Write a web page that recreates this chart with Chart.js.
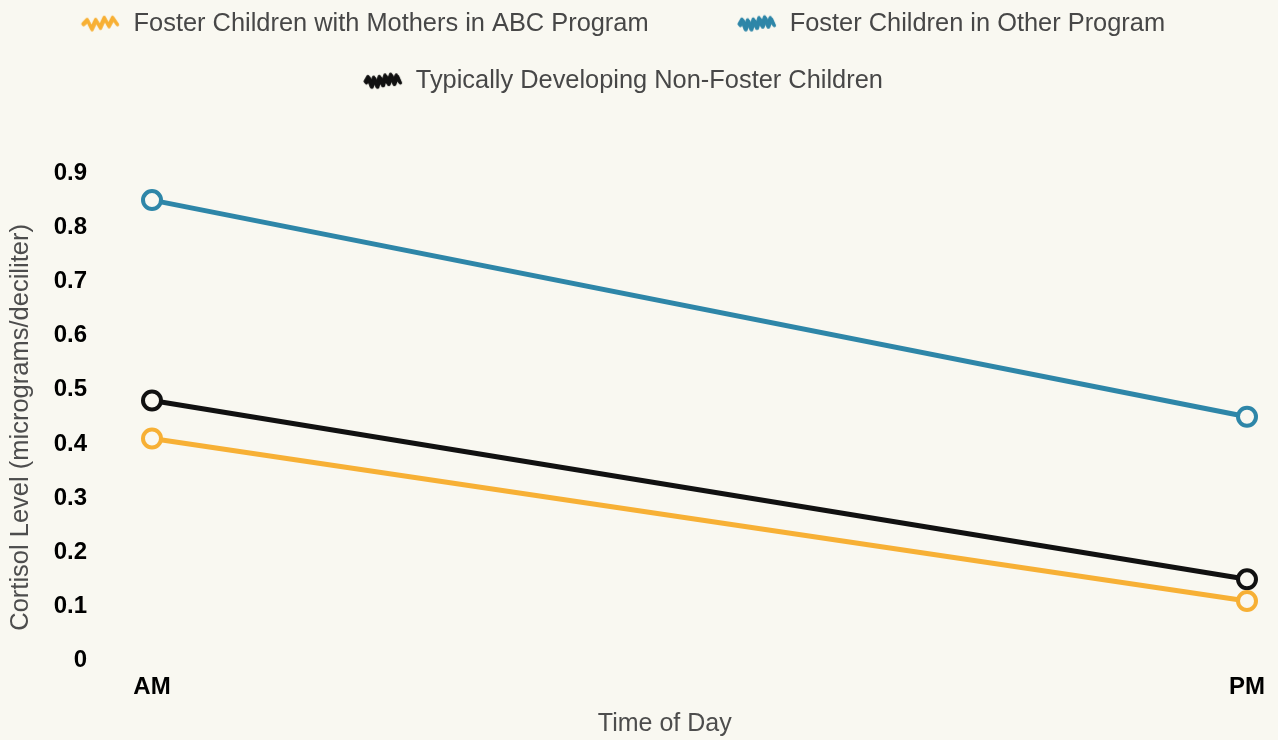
<!DOCTYPE html>
<html>
<head>
<meta charset="utf-8">
<script src="https://cdn.jsdelivr.net/npm/chart.js@4/dist/chart.umd.min.js"></script>
<style>
  html, body { margin: 0; padding: 0; background: #f9f8f1; }
  #wrap { width: 1278px; height: 740px; position: relative; }
</style>
</head>
<body>
<div id="wrap"><canvas id="grafico"></canvas></div>
<script>
// dados
const categorias = ['AM', 'PM'];
const nomesSeries = [
  'Foster Children with Mothers in ABC Program',
  'Foster Children in Other Program',
  'Typically Developing Non-Foster Children'
];
const valoresABC = [0.41, 0.11];
const valoresOutro = [0.85, 0.45];
const valoresTipico = [0.48, 0.15];
const rotulosY = ['0', '0.1', '0.2', '0.3', '0.4', '0.5', '0.6', '0.7', '0.8', '0.9'];

const corFundo = '#f9f8f1';
const cores = ['#f7b035', '#2e86a8', '#111111'];
const fonte = 'Liberation Sans, Arial, sans-serif';

// marcador rabiscado da legenda (hachura em zigue-zague)
function rabisco(cor, denso) {
  const c = document.createElement('canvas');
  c.width = 42; c.height = 20;
  const g = c.getContext('2d');
  g.strokeStyle = cor;
  g.lineWidth = 3.2;
  g.lineJoin = 'round';
  g.lineCap = 'round';
  const passadas = denso ? 3 : 2;
  const n = denso ? 12 : 8;
  for (let p = 0; p < passadas; p++) {
    g.beginPath();
    for (let k = 0; k <= n; k++) {
      const x = 3 + k * 34 / n + p * 0.7;
      const onda = Math.sin(k / n * Math.PI * 2) * 1.5;
      const amp = (k == 0 || k == n) ? 1 : 3.8 + ((k + p) % 2) * 0.8;
      const y = 10 + onda + (k % 2 ? -amp : amp) + (p - 1) * 0.8;
      if (k == 0) g.moveTo(x, y); else g.lineTo(x, y);
    }
    g.stroke();
  }
  return c;
}
const marcadores = [rabisco(cores[0], false), rabisco(cores[1], true), rabisco(cores[2], true)];
// folga (em espacos) depois de cada texto da legenda
const folgaLegenda = [8, 1, 1];

function serie(nome, valores, cor) {
  return {
    label: nome,
    data: valores,
    borderColor: cor,
    backgroundColor: cor,
    borderWidth: 5,
    pointRadius: 9,
    pointHoverRadius: 9,
    pointBorderWidth: 4,
    pointBackgroundColor: corFundo,
    pointBorderColor: cor,
    tension: 0,
    clip: false
  };
}

const fundoPlugin = {
  id: 'fundo',
  beforeDraw(chart) {
    const ctx = chart.ctx;
    ctx.save();
    ctx.fillStyle = corFundo;
    ctx.fillRect(0, 0, chart.width, chart.height);
    ctx.restore();
  },
  beforeLayout(chart) {
    const lg = chart.legend;
    if (lg && !lg._ajustado) {
      const fitOriginal = lg.fit;
      lg.fit = function () {
        fitOriginal.call(this);
        this.height = 194;
      };
      lg._ajustado = true;
    }
  }
};

const config = {
  type: 'line',
  data: {
    labels: categorias,
    datasets: [
      serie(nomesSeries[0], valoresABC, cores[0]),
      serie(nomesSeries[1], valoresOutro, cores[1]),
      serie(nomesSeries[2], valoresTipico, cores[2])
    ]
  },
  options: {
    responsive: true,
    maintainAspectRatio: false,
    animation: false,
    layout: { padding: { left: 6, right: 31, top: -21, bottom: 0 } },
    plugins: {
      tooltip: { enabled: false },
      legend: {
        position: 'top',
        labels: {
          usePointStyle: true,
          pointStyleWidth: 40,
          padding: 32,
          color: '#474747',
          font: { family: fonte, size: 25.4 },
          generateLabels: chart => chart.data.datasets.map((ds, i) => ({
            text: ds.label + ' '.repeat(folgaLegenda[i]),
            fillStyle: ds.borderColor,
            strokeStyle: ds.borderColor,
            lineWidth: 0,
            pointStyle: marcadores[i],
            fontColor: '#474747',
            hidden: false,
            datasetIndex: i
          }))
        }
      }
    },
    scales: {
      x: {
        type: 'category',
        offset: false,
        grid: { display: false, drawTicks: false },
        border: { display: false },
        ticks: {
          color: '#000',
          padding: 12,
          maxRotation: 0,
          font: { family: fonte, size: 24, weight: 'bold' }
        },
        title: {
          display: true,
          // espacos no fim deslocam o titulo para a esquerda, como no original
          text: 'Time of Day' + ' '.repeat(10),
          color: '#4d4d4d',
          padding: { top: -2, bottom: 0 },
          font: { family: fonte, size: 25 }
        },
        afterFit(scale) { scale.height = 79; }
      },
      y: {
        min: 0,
        max: 0.9,
        grid: { display: false, drawTicks: false },
        border: { display: false },
        ticks: {
          stepSize: 0.1,
          color: '#000',
          padding: 65,
          font: { family: fonte, size: 24, weight: 'bold' },
          callback: (v, i) => rotulosY[i]
        },
        title: {
          display: true,
          text: 'Cortisol Level (micrograms/deciliter)' + ' '.repeat(3),
          color: '#4d4d4d',
          padding: 0,
          font: { family: fonte, size: 25.5 }
        },
        afterFit(scale) { scale.width = 146; }
      }
    }
  },
  plugins: [fundoPlugin]
};

new Chart(document.getElementById('grafico'), config);
</script>
</body>
</html>
